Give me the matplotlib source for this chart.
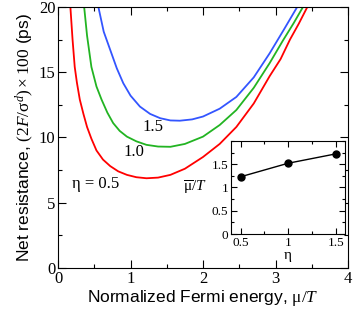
import matplotlib
matplotlib.use("Agg")
import matplotlib.pyplot as plt
from matplotlib.ticker import MultipleLocator

# dados
red_x = [0.17, 0.20, 0.23, 0.26, 0.30, 0.35, 0.40, 0.46, 0.53, 0.62, 0.72, 0.83, 0.95, 1.08,
         1.22, 1.38, 1.55, 1.75, 2.0, 2.23, 2.46, 2.7, 2.92, 3.07, 3.2, 3.32, 3.44]
red_y = [20.0, 17.5, 15.4, 14.2, 12.9, 11.8, 10.8, 9.9, 9.0, 8.3, 7.8, 7.4, 7.13, 6.95,
         6.87, 6.92, 7.13, 7.6, 8.5, 9.5, 10.8, 12.6, 14.7, 16.0, 17.5, 18.7, 20.0]
green_x = [0.36, 0.40, 0.46, 0.53, 0.60, 0.68, 0.76, 0.85, 0.95, 1.08, 1.22, 1.38, 1.55,
           1.75, 2.0, 2.23, 2.46, 2.7, 2.92, 3.1, 3.25, 3.38]
green_y = [20.0, 17.8, 15.4, 13.9, 12.9, 11.9, 11.1, 10.5, 10.06, 9.7, 9.43, 9.3, 9.28,
           9.5, 10.06, 10.95, 12.1, 13.8, 15.7, 17.4, 18.75, 20.0]
blue_x = [0.556, 0.63, 0.72, 0.81, 0.90, 1.0, 1.13, 1.27, 1.41, 1.55, 1.68, 1.85, 2.0,
          2.23, 2.46, 2.7, 2.92, 3.12, 3.30]
blue_y = [20.0, 18.1, 16.7, 15.3, 14.15, 13.2, 12.36, 11.8, 11.47, 11.3, 11.28, 11.38, 11.6,
          12.2, 13.1, 14.6, 16.45, 18.3, 20.0]

eta = [0.5, 1.0, 1.5]
mu_bar = [1.23, 1.52, 1.72]

serif = 'Liberation Serif'
sans = 'Liberation Sans'

plt.rcParams['font.family'] = serif
plt.rcParams['mathtext.fontset'] = 'custom'
plt.rcParams['mathtext.rm'] = 'Liberation Serif'
plt.rcParams['mathtext.it'] = 'Liberation Serif:italic'
plt.rcParams['xtick.direction'] = 'in'
plt.rcParams['ytick.direction'] = 'in'

fig = plt.figure(figsize=(3.54, 3.13), dpi=100)
ax = fig.add_axes([0.164, 0.144, 0.819, 0.834])

ax.plot(red_x, red_y, color='#ff0000', lw=1.3)
ax.plot(green_x, green_y, color='#22b422', lw=1.3)
ax.plot(blue_x, blue_y, color='#3355ff', lw=1.3)

ax.set_xlim(0, 4)
ax.set_ylim(0, 20)
ax.xaxis.set_major_locator(MultipleLocator(1))
ax.xaxis.set_minor_locator(MultipleLocator(0.5))
ax.yaxis.set_major_locator(MultipleLocator(5))
ax.yaxis.set_minor_locator(MultipleLocator(2.5))
ax.tick_params(which='both', top=True, right=True, width=0.8)
ax.tick_params(which='major', length=6, labelsize=12, pad=2)
ax.tick_params(which='minor', length=3)

ax.set_xlabel('Normalized Fermi energy, $\\mathrm{\\mu}/T$', fontsize=12.5, family=sans, labelpad=1)
ax.set_ylabel('Net resistance, $(2F/\\mathrm{\\sigma}^{d})\\times100$ (ps)', fontsize=12.5,
              family=sans, labelpad=2)

ax.text(0.19, 6.4, 'η = 0.5', fontsize=12, va='center')
ax.text(0.90, 8.9, '1.0', fontsize=12, va='center')
ax.text(1.16, 10.8, '1.5', fontsize=12, va='center')

# inset
ins = fig.add_axes([0.653, 0.252, 0.322, 0.298])
ins.plot(eta, mu_bar, color='black', lw=1, marker='o', markersize=5)
ins.set_xlim(0.4, 1.6)
ins.set_ylim(0, 2)
ins.xaxis.set_minor_locator(MultipleLocator(0.25))
ins.yaxis.set_minor_locator(MultipleLocator(0.25))
ins.set_xticks([0.5, 1, 1.5])
ins.set_xticklabels(['0.5', '1', '1.5'])
ins.set_yticks([0, 0.5, 1, 1.5])
ins.set_yticklabels(['0', '0.5', '1', '1.5'])
ins.tick_params(which='both', top=True, right=True, width=0.8)
ins.tick_params(which='major', length=4, labelsize=9.5, pad=2)
ins.tick_params(which='minor', length=2)
ins.set_xlabel('η', fontsize=11, labelpad=0)
ins.text(-0.32, 0.49, '$\\overline{\\mathrm{\\mu}}/T$', fontsize=11, transform=ins.transAxes,
         ha='center', va='center')

fig.savefig('out.png', dpi=100)
